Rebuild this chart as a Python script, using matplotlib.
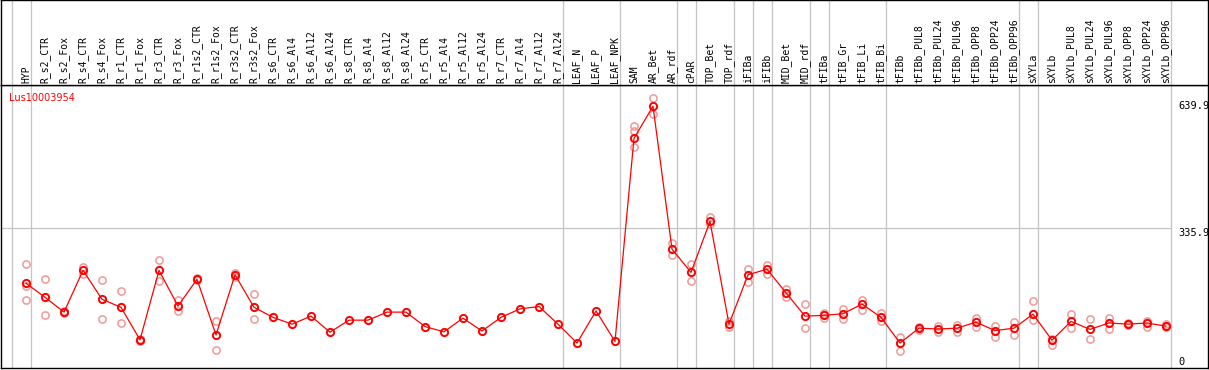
import matplotlib
matplotlib.use("Agg")
import matplotlib.pyplot as plt
import numpy as np

gene = "Lus10003954"

samples = ["HYP", "R_s2_CTR", "R_s2_Fox", "R_s4_CTR", "R_s4_Fox", "R_r1_CTR", "R_r1_Fox",
           "R_r3_CTR", "R_r3_Fox", "R_r1s2_CTR", "R_r1s2_Fox", "R_r3s2_CTR", "R_r3s2_Fox",
           "R_s6_CTR", "R_s6_Al4", "R_s6_Al12", "R_s6_Al24", "R_s8_CTR", "R_s8_Al4", "R_s8_Al12",
           "R_s8_Al24", "R_r5_CTR", "R_r5_Al4", "R_r5_Al12", "R_r5_Al24", "R_r7_CTR", "R_r7_Al4",
           "R_r7_Al12", "R_r7_Al24", "LEAF_N", "LEAF_P", "LEAF_NPK", "SAM", "AR_Bet", "AR_rdf",
           "cPAR", "TOP_Bet", "TOP_rdf", "iFIBa", "iFIBb", "MID_Bet", "MID_rdf", "tFIBa",
           "tFIB_Gr", "tFIB_Li", "tFIB_Bi", "tFIBb", "tFIBb_PUL8", "tFIBb_PUL24", "tFIBb_PUL96",
           "tFIBb_OPP8", "tFIBb_OPP24", "tFIBb_OPP96", "sXYLa", "sXYLb", "sXYLb_PUL8",
           "sXYLb_PUL24", "sXYLb_PUL96", "sXYLb_OPP8", "sXYLb_OPP24", "sXYLb_OPP96"]

# sizes of the sample groups, separated by grey lines
group_sizes = [1, 28, 3, 3, 1, 2, 1, 1, 2, 1, 3, 7, 1, 7]

means = [199, 164, 127, 231, 159, 139, 58, 231, 142, 209, 70, 220, 139,
         114, 97, 117, 77, 107, 107, 127, 127, 91, 78, 112, 80, 114, 135, 141, 97,
         50, 130, 54, 560, 639.9, 284, 226, 353, 97, 220, 234, 175, 117, 119,
         123, 147, 114, 50, 87, 85, 87, 102, 81, 87, 122, 57, 104, 84, 100, 97, 100, 92]

replicates = [[247, 193, 157], [209, 119], [124, 130], [240, 221], [206, 109], [180, 100],
              [55, 61], [256, 204], [157, 129], [211, 207], [104, 33], [225, 215], [172, 109],
              [], [], [], [], [], [], [], [], [], [], [], [], [], [], [], [],
              [], [], [], [591, 578, 539], [660, 621], [298, 269], [247, 205], [365, 347],
              [104, 89], [234, 203], [244, 222], [184, 165], [146, 88], [124, 112], [134, 111],
              [157, 132], [126, 106], [66, 31], [90, 83], [92, 78], [96, 77], [112, 91],
              [92, 66], [102, 71], [155, 107], [61, 46], [122, 87], [109, 59], [112, 84],
              [100, 95], [105, 89], [97, 90]]

y_ticks = [0, 335.9, 639.9]

W, H = 1209, 370
fig = plt.figure(figsize=(W / 100, H / 100), dpi=100)

x_left, x_right = 1, 1208
plot_top, plot_bottom = 85, 368
ax = fig.add_axes([x_left / W, (H - plot_bottom) / H,
                   (x_right - x_left) / W, (plot_bottom - plot_top) / H])
hdr = fig.add_axes([x_left / W, (H - plot_top) / H,
                    (x_right - x_left) / W, plot_top / H], sharex=ax)

x = np.arange(len(samples))
xlim = ((x_left - 26) / 19, (x_right - 26) / 19)
ax.set_xlim(*xlim)
ax.set_ylim(-12.2, 692.8)
hdr.set_ylim(0, 1)

for a in (ax, hdr):
    a.set_xticks([])
    a.set_yticks([])
    for s in a.spines.values():
        s.set_color("black")
        s.set_linewidth(1.0)

grid_c = "#c4c4c4"
seps = np.concatenate([[0], np.cumsum(group_sizes)]) - 1 + 0.25
for s in seps:
    ax.axvline(s, color=grid_c, lw=0.9, zorder=1)
    hdr.axvline(s, color=grid_c, lw=0.9, zorder=1)

ax.hlines(y_ticks[1], xlim[0], seps[-1], color=grid_c, lw=0.9, zorder=1)

for i, name in enumerate(samples):
    hdr.text(i, 0.024, name, rotation=90, ha="center", va="bottom",
             family="DejaVu Sans Mono", fontsize=7, color="black")

rx, ry = [], []
for i, reps in enumerate(replicates):
    rx += [i] * len(reps)
    ry += reps
ax.plot(rx, ry, "o", ms=5.2, mfc="none", mec="#f09898", mew=1.1, zorder=2)
ax.plot(x, means, "-", color="red", lw=0.9, zorder=3)
ax.plot(x, means, "o", ms=5.2, mfc="none", mec="red", mew=1.4, zorder=4)

tx = (1178 - 26) / 19
mono = dict(family="DejaVu Sans Mono", fontsize=7.5, color="black", ha="left")
ax.text(tx, y_ticks[2], f"{y_ticks[2]}", va="center", **mono)
ax.text(tx, y_ticks[1], f"{y_ticks[1]}", va="top", **mono)
ax.text(tx, y_ticks[0] + 3, f"{y_ticks[0]}", va="center", **mono)

ax.text(8 / 1207, 1 - 13 / 283, gene, transform=ax.transAxes, color="red",
        fontsize=7, ha="left", va="center")

fig.savefig("out.png", dpi=100)
